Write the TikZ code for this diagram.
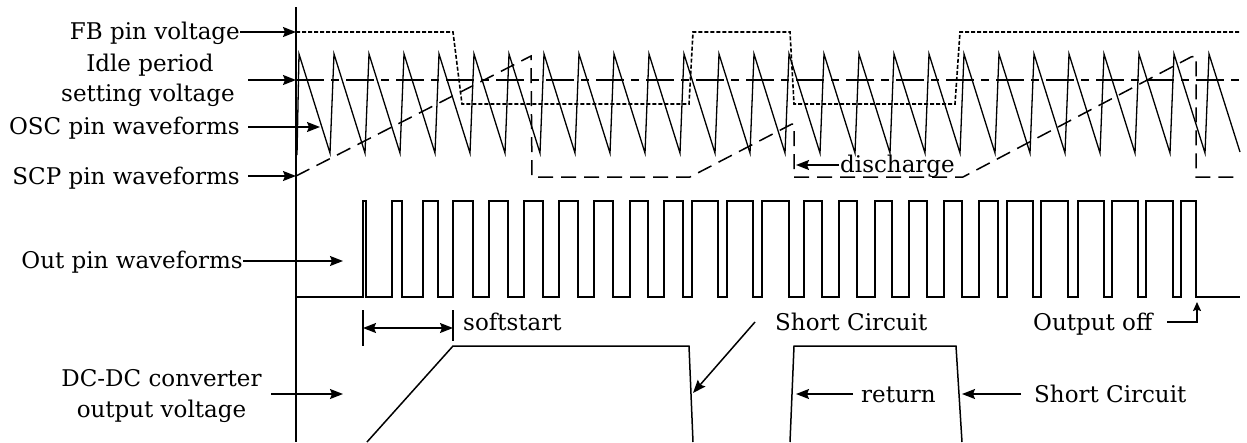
\documentclass[tikz,border=0pt]{standalone}
\usepackage{fontspec}
\setmainfont{DejaVu Serif}
\usetikzlibrary{arrows.meta}
\begin{document}
\begin{tikzpicture}[x=1pt,y=-1pt,
  lbl/.style={inner sep=0pt, font=\fontsize{23}{27}\selectfont},
  arr/.style={line width=1.5pt, -{Stealth[length=13pt,width=10pt,inset=2pt]}},
  sarr/.style={line width=1.5pt, -{Stealth[length=9pt,width=8pt,inset=1.5pt]}},
  axis/.style={line width=1.8pt},
  fbline/.style={line width=1.6pt, dash pattern=on 4pt off 2pt},
  idleline/.style={line width=1.7pt, dash pattern=on 28pt off 7pt on 8pt off 7pt},
  scpline/.style={line width=1.5pt, dash pattern=on 15pt off 8pt},
  saw/.style={line width=1.3pt},
  pulse/.style={line width=2pt},
  dcline/.style={line width=1.5pt},
  tick/.style={line width=1.5pt}]
\useasboundingbox (0,0) rectangle (1247,442);

% axis
\coordinate (axtop) at (296,7);
\coordinate (axbot) at (296,442);
\draw[axis] (axtop) -- (axbot);

% FB pin voltage (dotted)
\draw[fbline] (296,32) -- (453,32) -- (462,104) -- (689,104) -- (693,32) -- (790,32)
  -- (794,104) -- (955,104) -- (960,32) -- (1240,32);

% Idle period setting voltage (dash-dot)
\draw[idleline] (296,80) -- (1240,80);

% OSC sawtooth
\draw[saw] (297,155) -- (299,54)
  \foreach \k in {0,...,25} { -- ({299+35*\k+31},153) -- ({299+35*\k+35},54) }
  -- (1240,152);

% SCP waveform (dashed)
\draw[scpline] (296,176) -- (531,56) -- (532,177) -- (690,177) -- (792,124)
  -- (794,124) -- (794,177) -- (963,177) -- (1191,57) -- (1196,56) -- (1196,177) -- (1240,177);

% Out pin pulses
\draw[pulse] (296,297)
  \foreach \r/\f in {363/366,392/402,423/438,453/473,489/508,524/543,559/578,594/613,
    630/648,664/683,692/718,727/753,762/789,804/822,839/857,875/892,909/927,944/962,
    979/998,1007/1033,1041/1068,1078/1104,1112/1138,1146/1173,1181/1196}
  { -- (\r,297) -- (\r,201) -- (\f,201) -- (\f,297) }
  -- (1240,297);

% DC-DC converter output voltage
\draw[dcline] (367,442) -- (453,346) -- (689,346) -- (693,442);
\draw[dcline] (790,442) -- (794,346) -- (956,346) -- (962,442);

% left labels
\node[lbl, anchor=base east] (fb) at (240,39.5) {FB pin voltage};
\node[lbl, anchor=base] (idle1) at (150,71) {Idle period};
\node[lbl, anchor=base] (idle2) at (148,101) {setting voltage};
\node[lbl, anchor=base east] (osc) at (240,134) {OSC pin waveforms};
\node[lbl, anchor=base east] (scp) at (240,184) {SCP pin waveforms};
\node[lbl, anchor=base east] (out) at (243,268) {Out pin waveforms};
\node[lbl, anchor=base] (dc1) at (161.5,386) {DC-DC converter};
\node[lbl, anchor=base] (dc2) at (161.5,417) {output voltage};

% other labels
\node[lbl, anchor=base west] (soft) at (463,330) {softstart};
\node[lbl, anchor=base west] (sc1) at (775,330) {Short Circuit};
\node[lbl, anchor=base west] (off) at (1033,330) {Output off};
\node[lbl, anchor=base west] (ret) at (861,402) {return};
\node[lbl, anchor=base west] (sc2) at (1034,402) {Short Circuit};
\node[lbl, anchor=base west] (dis) at (840,172) {discharge};

% arrow coordinates
\coordinate (fbS) at (240,32);   \coordinate (fbT) at (296,32);
\coordinate (idS) at (248,80);   \coordinate (idT) at (296,80);
\coordinate (osS) at (248,127);  \coordinate (osT) at (320,127);
\coordinate (scS) at (248,176);  \coordinate (scT) at (296,176);
\coordinate (ouS) at (243,261);  \coordinate (ouT) at (343,261);
\coordinate (dcS) at (271,394);  \coordinate (dcT) at (343,394);
\coordinate (ssA) at (363,328);  \coordinate (ssB) at (453,328);
\coordinate (tkA1) at (363,310); \coordinate (tkA2) at (363,346);
\coordinate (tkB1) at (453,310); \coordinate (tkB2) at (453,341);
\coordinate (s1S) at (755,322);  \coordinate (s1T) at (693,393);
\coordinate (ofS) at (1167,322); \coordinate (ofC) at (1197,322); \coordinate (ofT) at (1197,302);
\coordinate (reS) at (853,394);  \coordinate (reT) at (796,394);
\coordinate (s2S) at (1021,394); \coordinate (s2T) at (962,394);
\coordinate (diS) at (839,165);  \coordinate (diT) at (796,165);

\draw[arr] (fbS) -- (fbT);
\draw[arr] (idS) -- (idT);
\draw[arr] (osS) -- (osT);
\draw[arr] (scS) -- (scT);
\draw[arr] (ouS) -- (ouT);
\draw[arr] (dcS) -- (dcT);
\draw[tick] (tkA1) -- (tkA2);
\draw[tick] (tkB1) -- (tkB2);
\draw[line width=1.5pt, {Stealth[length=13pt,width=10pt,inset=2pt]}-{Stealth[length=13pt,width=10pt,inset=2pt]}] (ssA) -- (ssB);
\draw[arr] (s1S) -- (s1T);
\draw[sarr] (ofS) -- (ofC) -- (ofT);
\draw[arr] (reS) -- (reT);
\draw[arr] (s2S) -- (s2T);
\draw[arr] (diS) -- (diT);
\end{tikzpicture}
\end{document}
